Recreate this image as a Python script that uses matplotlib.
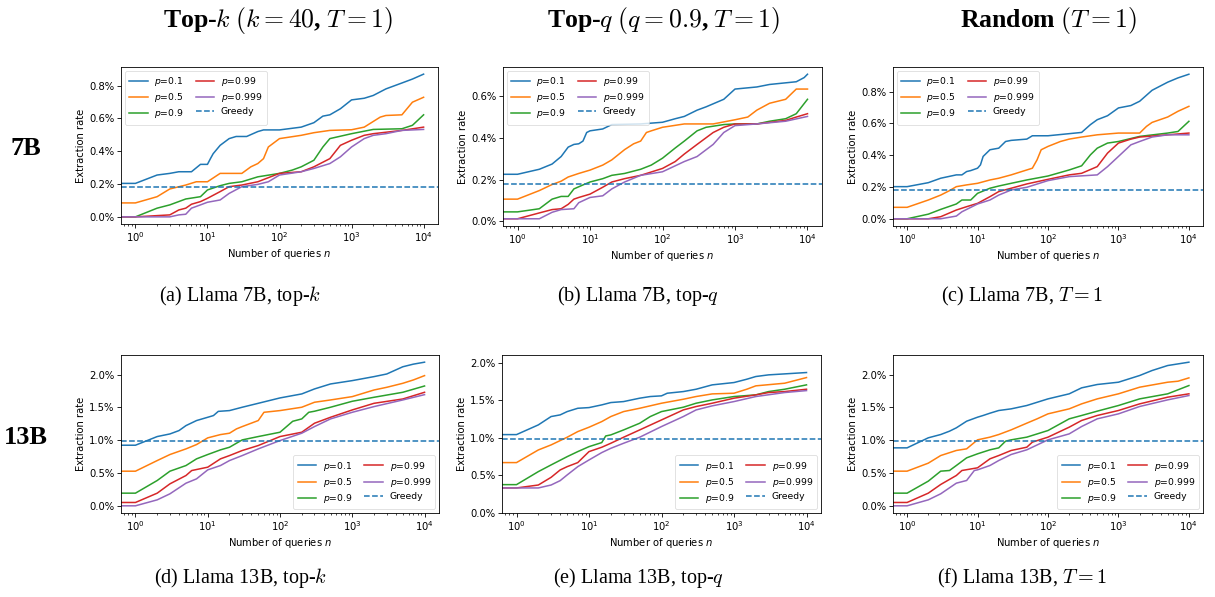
import matplotlib
matplotlib.use("Agg")
import matplotlib.pyplot as plt
from matplotlib.ticker import PercentFormatter, MultipleLocator

# ---------------- data (n, extraction rate in %) ----------------
# (a) Llama 7B, top-k
a_p01 = [(1,0.204),(2,0.255),(3,0.265),(4,0.275),(6,0.275),(8,0.32),(10,0.32),(11,0.355),(12,0.385),(15,0.436),(20,0.477),(25,0.49),(35,0.49),(50,0.52),(60,0.53),(100,0.53),(200,0.547),(300,0.574),(400,0.614),(500,0.622),(700,0.659),(1000,0.713),(1500,0.723),(2000,0.74),(3000,0.78),(5000,0.816),(7000,0.84),(10000,0.87)]
a_p05 = [(1,0.085),(2,0.123),(3,0.17),(5,0.194),(7,0.214),(10,0.214),(15,0.265),(30,0.265),(40,0.305),(50,0.325),(60,0.355),(70,0.426),(100,0.477),(200,0.497),(300,0.513),(500,0.527),(1000,0.531),(1500,0.547),(2500,0.608),(3000,0.618),(5000,0.622),(7000,0.699),(10000,0.729)]
a_p09 = [(1,0.0),(2,0.053),(3,0.073),(5,0.109),(8,0.123),(10,0.164),(15,0.19),(20,0.204),(30,0.214),(50,0.244),(100,0.265),(150,0.285),(200,0.305),(300,0.345),(400,0.426),(500,0.477),(1000,0.507),(2000,0.533),(5000,0.537),(7000,0.558),(10000,0.622)]
a_p099 = [(1,0.0),(3,0.012),(4,0.042),(5,0.053),(6,0.077),(8,0.093),(10,0.113),(15,0.154),(20,0.184),(30,0.194),(50,0.214),(100,0.265),(200,0.275),(300,0.305),(500,0.355),(700,0.436),(1000,0.467),(1500,0.497),(2000,0.507),(5000,0.527),(10000,0.547)]
a_p0999 = [(1,0.0),(3,0.0),(4,0.012),(5,0.016),(6,0.053),(8,0.073),(10,0.089),(15,0.103),(20,0.143),(30,0.184),(50,0.198),(70,0.214),(100,0.255),(200,0.275),(300,0.295),(500,0.325),(700,0.366),(1000,0.426),(1500,0.477),(2000,0.497),(3000,0.507),(5000,0.527),(10000,0.533)]
a_greedy = 0.18

# (b) Llama 7B, top-q
b_p01 = [(1,0.226),(2,0.25),(3,0.275),(4,0.311),(5,0.356),(6,0.369),(7,0.372),(8,0.385),(9,0.426),(10,0.434),(15,0.443),(20,0.464),(50,0.467),(100,0.475),(150,0.492),(200,0.503),(300,0.533),(400,0.549),(700,0.585),(1000,0.634),(2000,0.644),(3000,0.656),(7000,0.669),(9000,0.689),(10000,0.705)]
b_p05 = [(1,0.107),(2,0.148),(3,0.177),(4,0.193),(5,0.213),(7,0.23),(10,0.246),(15,0.27),(20,0.295),(30,0.344),(40,0.372),(50,0.385),(60,0.426),(70,0.434),(100,0.451),(200,0.467),(500,0.467),(1000,0.487),(1500,0.5),(2000,0.533),(3000,0.566),(5000,0.585),(7000,0.634),(10000,0.634)]
b_p09 = [(1,0.046),(2,0.061),(3,0.107),(4,0.12),(5,0.12),(6,0.156),(8,0.175),(10,0.189),(15,0.205),(20,0.221),(30,0.23),(50,0.25),(70,0.27),(100,0.303),(150,0.352),(200,0.385),(300,0.434),(400,0.451),(700,0.464),(1000,0.467),(2000,0.467),(3000,0.48),(5000,0.492),(7000,0.516),(10000,0.585)]
b_p099 = [(1,0.013),(2,0.041),(3,0.057),(4,0.061),(5,0.082),(6,0.107),(7,0.115),(10,0.131),(15,0.164),(20,0.189),(30,0.205),(50,0.221),(100,0.254),(150,0.287),(200,0.323),(300,0.369),(500,0.426),(700,0.451),(1000,0.467),(2000,0.467),(5000,0.484),(7000,0.5),(10000,0.516)]
b_p0999 = [(1,0.013),(2,0.013),(3,0.044),(4,0.057),(6,0.061),(7,0.09),(10,0.115),(15,0.123),(20,0.156),(30,0.189),(50,0.221),(100,0.238),(200,0.287),(300,0.311),(500,0.369),(700,0.426),(1000,0.459),(2000,0.467),(5000,0.48),(10000,0.503)]
b_greedy = 0.18

# (c) Llama 7B, T=1
c_p01 = [(1,0.202),(2,0.227),(3,0.255),(5,0.276),(6,0.276),(7,0.297),(8,0.303),(10,0.318),(11,0.339),(12,0.392),(15,0.434),(20,0.444),(25,0.486),(30,0.493),(50,0.501),(60,0.522),(100,0.522),(300,0.543),(400,0.592),(500,0.623),(700,0.648),(1000,0.697),(1500,0.712),(2000,0.739),(3000,0.808),(5000,0.859),(7000,0.886),(10000,0.909)]
c_p05 = [(1,0.072),(2,0.118),(3,0.149),(4,0.177),(5,0.202),(7,0.213),(10,0.223),(15,0.244),(20,0.255),(30,0.276),(50,0.307),(60,0.318),(70,0.371),(80,0.434),(100,0.455),(150,0.486),(200,0.501),(300,0.514),(500,0.528),(1000,0.539),(2000,0.539),(2500,0.581),(3000,0.606),(5000,0.64),(7000,0.676),(10000,0.707)]
c_p09 = [(1,0.0),(2,0.029),(3,0.059),(5,0.093),(6,0.118),(8,0.118),(10,0.16),(15,0.192),(20,0.206),(30,0.223),(50,0.244),(100,0.269),(200,0.307),(300,0.333),(400,0.402),(500,0.444),(700,0.476),(1000,0.486),(2000,0.518),(5000,0.539),(7000,0.549),(10000,0.613)]
c_p099 = [(1,0.0),(2,0.0),(3,0.013),(5,0.055),(7,0.076),(10,0.097),(15,0.139),(20,0.171),(30,0.192),(50,0.219),(100,0.248),(200,0.276),(300,0.286),(500,0.328),(700,0.413),(1000,0.476),(1500,0.501),(2000,0.514),(5000,0.528),(10000,0.539)]
c_p0999 = [(1,0.0),(3,0.0),(5,0.017),(6,0.044),(10,0.093),(15,0.118),(20,0.149),(30,0.181),(50,0.198),(100,0.24),(200,0.265),(500,0.276),(700,0.328),(1000,0.392),(1500,0.465),(2000,0.486),(3000,0.514),(5000,0.528),(10000,0.528)]
c_greedy = 0.18

# (d) Llama 13B, top-k
d_p01 = [(1,0.924),(2,1.056),(3,1.096),(4,1.147),(5,1.223),(7,1.3),(10,1.35),(12,1.376),(14,1.44),(20,1.452),(30,1.503),(50,1.563),(100,1.645),(200,1.706),(300,1.782),(500,1.858),(1000,1.909),(2000,1.97),(3000,2.01),(5000,2.12),(7000,2.16),(10000,2.19)]
d_p05 = [(1,0.528),(2,0.69),(3,0.782),(5,0.868),(7,0.934),(10,1.036),(15,1.086),(20,1.107),(25,1.173),(30,1.208),(50,1.3),(60,1.426),(100,1.452),(200,1.503),(300,1.579),(500,1.614),(1000,1.665),(2000,1.766),(3000,1.807),(5000,1.868),(7000,1.919),(10000,1.985)]
d_p09 = [(1,0.193),(2,0.386),(3,0.528),(5,0.614),(7,0.716),(10,0.782),(15,0.853),(20,0.893),(30,1.005),(50,1.056),(100,1.122),(150,1.289),(200,1.325),(250,1.426),(300,1.442),(500,1.503),(1000,1.594),(2000,1.655),(5000,1.731),(10000,1.827)]
d_p099 = [(1,0.051),(2,0.193),(3,0.335),(5,0.462),(6,0.538),(10,0.589),(15,0.716),(20,0.766),(30,0.843),(50,0.919),(100,1.056),(200,1.122),(300,1.259),(500,1.35),(1000,1.462),(2000,1.563),(5000,1.629),(10000,1.731)]
d_p0999 = [(1,0.0),(2,0.091),(3,0.183),(5,0.345),(7,0.411),(10,0.548),(15,0.614),(20,0.69),(30,0.766),(50,0.868),(100,0.995),(200,1.107),(300,1.208),(500,1.325),(1000,1.426),(2000,1.513),(5000,1.614),(10000,1.695)]
d_greedy = 0.985

# (e) Llama 13B, top-q
e_p01 = [(1,1.042),(2,1.171),(3,1.282),(4,1.304),(5,1.348),(7,1.392),(10,1.401),(15,1.437),(20,1.468),(30,1.481),(50,1.526),(70,1.548),(100,1.557),(120,1.592),(200,1.614),(300,1.645),(500,1.703),(1000,1.734),(1500,1.778),(2000,1.814),(3000,1.836),(5000,1.849),(10000,1.867)]
e_p05 = [(1,0.67),(2,0.838),(3,0.905),(5,1.007),(7,1.082),(10,1.14),(15,1.215),(20,1.282),(30,1.348),(50,1.392),(100,1.459),(200,1.512),(300,1.548),(500,1.583),(1000,1.592),(1500,1.645),(2000,1.69),(5000,1.725),(10000,1.8)]
e_p09 = [(1,0.377),(2,0.55),(3,0.639),(5,0.749),(7,0.816),(10,0.882),(15,0.936),(17,1.024),(20,1.038),(30,1.104),(50,1.193),(70,1.282),(100,1.348),(200,1.406),(300,1.459),(500,1.503),(1000,1.548),(2000,1.57),(3000,1.614),(5000,1.645),(10000,1.703)]
e_p099 = [(1,0.333),(2,0.372),(3,0.474),(4,0.572),(5,0.616),(7,0.67),(10,0.816),(15,0.874),(20,0.927),(30,1.007),(50,1.104),(100,1.237),(200,1.37),(300,1.415),(500,1.459),(1000,1.526),(2000,1.57),(3000,1.601),(5000,1.614),(10000,1.645)]
e_p0999 = [(1,0.333),(2,0.333),(3,0.372),(4,0.43),(5,0.506),(7,0.616),(10,0.705),(15,0.803),(20,0.86),(30,0.927),(50,1.007),(100,1.149),(200,1.282),(300,1.37),(500,1.424),(1000,1.481),(2000,1.548),(5000,1.601),(10000,1.627)]
e_greedy = 0.985

# (f) Llama 13B, T=1
f_p01 = [(1,0.883),(2,1.036),(3,1.086),(4,1.137),(5,1.188),(7,1.289),(10,1.35),(12,1.376),(15,1.411),(20,1.452),(30,1.477),(50,1.528),(100,1.629),(200,1.706),(300,1.797),(500,1.848),(1000,1.883),(2000,1.985),(3000,2.061),(5000,2.137),(10000,2.188)]
f_p05 = [(1,0.528),(2,0.65),(3,0.766),(5,0.843),(7,0.868),(10,1.005),(15,1.046),(20,1.086),(30,1.157),(50,1.259),(70,1.325),(100,1.401),(200,1.477),(300,1.553),(500,1.629),(1000,1.706),(2000,1.807),(5000,1.883),(7000,1.898),(10000,1.949)]
f_p09 = [(1,0.193),(2,0.376),(3,0.528),(4,0.538),(5,0.614),(7,0.731),(10,0.792),(15,0.853),(20,0.883),(25,0.985),(30,1.005),(50,1.046),(100,1.147),(200,1.325),(300,1.376),(500,1.442),(1000,1.528),(2000,1.629),(5000,1.706),(10000,1.832)]
f_p099 = [(1,0.051),(2,0.193),(3,0.325),(5,0.462),(6,0.538),(10,0.579),(15,0.716),(20,0.766),(30,0.843),(50,0.893),(60,0.97),(100,1.046),(200,1.198),(300,1.3),(500,1.376),(1000,1.452),(2000,1.553),(5000,1.655),(10000,1.706)]
f_p0999 = [(1,0.0),(2,0.091),(3,0.183),(5,0.345),(7,0.386),(9,0.538),(10,0.548),(15,0.614),(20,0.69),(30,0.782),(50,0.853),(100,1.005),(200,1.096),(300,1.208),(500,1.325),(1000,1.401),(2000,1.513),(5000,1.614),(10000,1.68)]
f_greedy = 0.99

series_labels = [r"$p$=0.1", r"$p$=0.5", r"$p$=0.9", r"$p$=0.99", r"$p$=0.999"]
series_colors = ["#1f77b4", "#ff7f0e", "#2ca02c", "#d62728", "#9467bd"]

col_titles = [r"Top-$k$ $(k=40$, $T=1)$", r"Top-$q$ $(q=0.9$, $T=1)$", r"Random $(T=1)$"]
row_titles = ["7B", "13B"]
captions = [r"(a) Llama 7B, top-$k$", r"(b) Llama 7B, top-$q$", r"(c) Llama 7B, $T=1$",
            r"(d) Llama 13B, top-$k$", r"(e) Llama 13B, top-$q$", r"(f) Llama 13B, $T=1$"]

# ---------------- drawing ----------------
plt.rcParams["font.family"] = "DejaVu Sans"
plt.rcParams["mathtext.fontset"] = "dejavusans"
W, H = 1215, 597
fig = plt.figure(figsize=(W / 100, H / 100), dpi=100)

XMIN, XMAX = 10 ** -0.2, 10 ** 4.2
FS = 7.2

def px_rect(l, t, r, b):
    return [l / W, 1 - b / H, (r - l) / W, (b - t) / H]

panels = [
    (px_rect(121, 67, 438, 224), [a_p01, a_p05, a_p09, a_p099, a_p0999], a_greedy, "upper left", None, 0.2),
    (px_rect(503, 67, 822, 226), [b_p01, b_p05, b_p09, b_p099, b_p0999], b_greedy, "upper left", None, 0.2),
    (px_rect(893, 67, 1203, 226), [c_p01, c_p05, c_p09, c_p099, c_p0999], c_greedy, "upper left", None, 0.2),
    (px_rect(121, 355, 439, 513), [d_p01, d_p05, d_p09, d_p099, d_p0999], d_greedy, "lower right", None, 0.5),
    (px_rect(502, 355, 821, 513), [e_p01, e_p05, e_p09, e_p099, e_p0999], e_greedy, "lower right", (0, 2.1), 0.5),
    (px_rect(893, 355, 1203, 513), [f_p01, f_p05, f_p09, f_p099, f_p0999], f_greedy, "lower right", None, 0.5),
]

for rect, series, greedy, loc, ylim, ystep in panels:
    ax = fig.add_axes(rect)
    for pts, lab, col in zip(series, series_labels, series_colors):
        n = [p[0] for p in pts]
        v = [p[1] for p in pts]
        ax.plot([XMIN] + n, [v[0]] + v, color=col, lw=1.1, label=lab)
    ax.axhline(greedy, color="#1f77b4", ls="--", lw=1.1, label="Greedy")
    ax.set_xscale("log")
    ax.set_xlim(XMIN, XMAX)
    if ylim is not None:
        ax.set_ylim(*ylim)
    ax.yaxis.set_major_locator(MultipleLocator(ystep))
    ax.yaxis.set_major_formatter(PercentFormatter(xmax=100, decimals=1))
    ax.tick_params(labelsize=FS, width=0.6, length=2.8, pad=2)
    ax.tick_params(which="minor", width=0.5, length=1.6)
    for s in ax.spines.values():
        s.set_linewidth(0.6)
    ax.set_xlabel(r"Number of queries $n$", fontsize=FS, labelpad=1.5)
    ax.set_ylabel("Extraction rate", fontsize=FS, labelpad=2)
    leg = ax.legend(loc=loc, ncol=2, fontsize=6.7, handlelength=2.0,
                    columnspacing=1.3, labelspacing=0.35, borderpad=0.45,
                    handletextpad=0.7, borderaxespad=0.4, fancybox=True)
    leg.get_frame().set_linewidth(0.5)

# column headers
for x, t in zip([278, 664, 1049], col_titles):
    fig.text(x / W, 1 - 20 / H, t, ha="center", va="center", fontsize=18.5,
             fontweight="bold", family="Liberation Serif", math_fontfamily="cm")

# row labels
for y, t in zip([149, 437], row_titles):
    fig.text(26 / W, 1 - y / H, t, ha="center", va="center", fontsize=19,
             fontweight="bold", family="Liberation Serif")

# captions
cap_xy = [(240, 296), (638, 296), (1022, 296), (241, 578), (638, 578), (1022, 578)]
for (x, y), t in zip(cap_xy, captions):
    fig.text(x / W, 1 - y / H, t, ha="center", va="center", fontsize=14.5,
             family="Liberation Serif", math_fontfamily="cm")

fig.savefig("out.png", dpi=100)
